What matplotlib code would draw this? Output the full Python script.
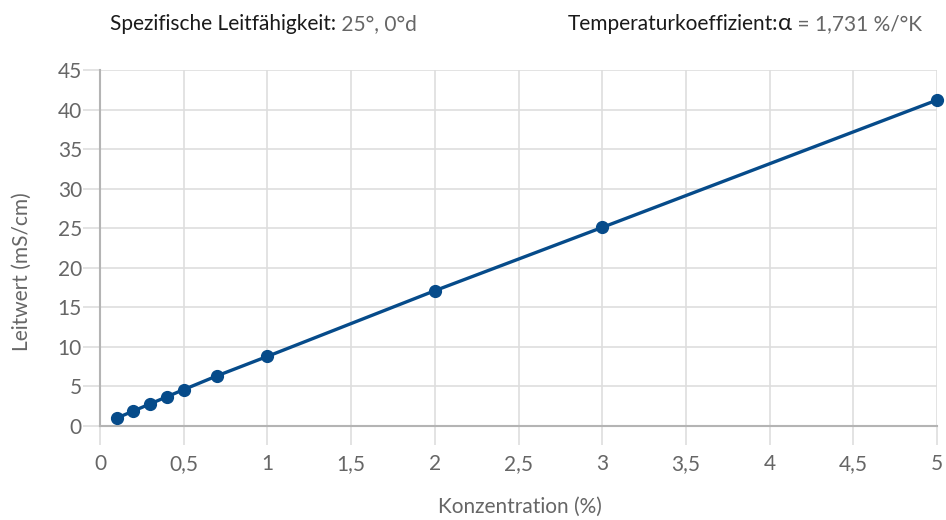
import matplotlib
matplotlib.use("Agg")
import matplotlib.pyplot as plt
from matplotlib.ticker import FuncFormatter

plt.rcParams["font.family"] = ["Lato", "DejaVu Sans"]

konz = [0.1, 0.2, 0.3, 0.4, 0.5, 0.7, 1, 2, 3, 5]
leitwert = [1.0, 1.9, 2.8, 3.7, 4.6, 6.35, 8.8, 17.1, 25.1, 41.2]
xticks = [0, 0.5, 1, 1.5, 2, 2.5, 3, 3.5, 4, 4.5, 5]
yticks = [0, 5, 10, 15, 20, 25, 30, 35, 40, 45]

blue = "#064b8a"
grey_txt = "#666666"
grid_c = "#dedede"

fig = plt.figure(figsize=(9.46, 5.2), dpi=100)
ax = fig.add_axes([100 / 946, 1 - 426 / 520, 837 / 946, 356 / 520])

ax.plot(konz, leitwert, color=blue, lw=2.4, marker="o", ms=8.5, clip_on=False, zorder=3)

ax.set_xlim(0, 5)
ax.set_ylim(0, 45)
ax.set_xticks(xticks)
ax.set_yticks(yticks)


def comma(v, pos):
    return ("%g" % v).replace(".", ",")


ax.xaxis.set_major_formatter(FuncFormatter(comma))
ax.grid(True, color=grid_c, lw=1.2)
ax.set_axisbelow(True)
ax.tick_params(axis="x", length=14, width=1.2, color=grid_c, labelsize=15, labelcolor=grey_txt, pad=6)
ax.tick_params(axis="y", length=12, width=1.2, color=grid_c, labelsize=15, labelcolor=grey_txt, pad=1)

for s in ["top", "right"]:
    ax.spines[s].set_visible(False)
for s in ["left", "bottom"]:
    ax.spines[s].set_color("#b4b4b4")
    ax.spines[s].set_linewidth(1.5)

fig.text(520 / 946, 3 / 520, "Konzentration (%)", ha="center", va="bottom",
         fontsize=15, color=grey_txt)
fig.text(22 / 946, 248 / 520, "Leitwert (mS/cm)", ha="center", va="center", rotation=90,
         fontsize=15, color=grey_txt)

t1 = fig.text(110 / 946, 1 - 30 / 520, "Spezifische Leitfähigkeit:", fontsize=15,
              color="#1a1a1a", va="baseline")
fig.canvas.draw()
ax.annotate(" 25°, 0°d", xy=(1, 0), xycoords=t1, va="bottom", fontsize=15,
            color=grey_txt)

t2 = fig.text(568 / 946, 1 - 30 / 520, "Temperaturkoeffizient:", fontsize=15,
              color="#1a1a1a", va="baseline")
t3 = ax.annotate("α", xy=(1, 0), xycoords=t2, va="bottom", fontsize=17, color="#1a1a1a")
ax.annotate(" = 1,731 %/°K", xy=(1, 0), xycoords=t3, va="bottom", fontsize=15,
            color=grey_txt)

fig.savefig("out.png", dpi=100)
